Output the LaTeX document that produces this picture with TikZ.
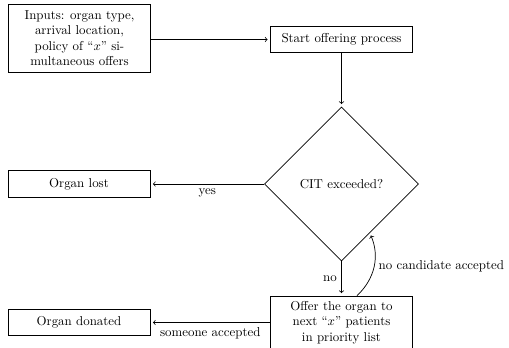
\documentclass[tikz,border=0pt]{standalone}
\usetikzlibrary{shapes.geometric}
\begin{document}
\begin{tikzpicture}[x=0.775pt,y=-0.775pt,
  box/.style={draw, rectangle, minimum width=110pt, minimum height=20.5pt, align=center, inner sep=3pt, line width=0.5pt},
  decision/.style={draw, diamond, aspect=1, minimum width=119.4pt, minimum height=119.4pt, inner sep=0pt, line width=0.5pt},
  conn/.style={draw, ->, line width=0.55pt, shorten >=2pt}]
\useasboundingbox (0,0) rectangle (509,348);
\node[box, minimum height=52.7pt] (inputs) at (79.5,38) {Inputs: organ type,\\ arrival location,\\ policy of ``$x$'' si-\\ multaneous offers};
\node[box] (start) at (341.5,39.5) {Start offering process};
\node[decision] (cit) at (341.5,184) {CIT exceeded?};
\node[box] (lost) at (79,184) {Organ lost};
\node[box, minimum height=41pt] (offer) at (341.5,322.5) {Offer the organ to\\ next ``$x$'' patients\\ in priority list};
\node[box] (donated) at (79,322.5) {Organ donated};
\draw[conn] (inputs.east |- start.west) -- (start.west);
\draw[conn] (start.south) -- (cit.north);
\draw[conn] (cit.west) -- node[midway, below] {yes} (lost.east);
\draw[conn] (cit.south) -- node[midway, left] {no} (offer.north);
\draw[conn] (offer.west) -- node[midway, below] {someone accepted} (donated.east);
\draw[conn] ([xshift=12pt]offer.north) to[bend right=35] node[midway, right] {no candidate accepted} (cit.-60);
\end{tikzpicture}
\end{document}
